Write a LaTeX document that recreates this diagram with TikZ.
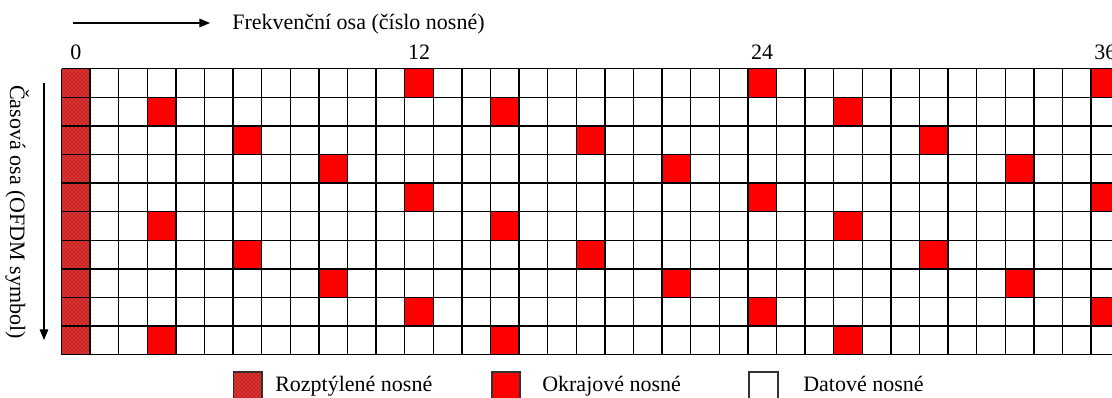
\documentclass[tikz,border=0pt]{standalone}
\usepackage{fontspec}
\setmainfont{Liberation Serif}
\usetikzlibrary{arrows.meta,patterns}
\definecolor{hatchbase}{RGB}{225,50,50}
\definecolor{hatchdot}{RGB}{80,0,0}
\begin{document}
\begin{tikzpicture}[x=0.75pt,y=-0.75pt,
  lbl/.style={inner sep=0pt, font=\fontsize{16.5pt}{18pt}\selectfont},
  gridline/.style={line width=1pt, black},
  axisarrow/.style={line width=0.8pt, -{Triangle[length=8pt,width=6.5pt]}},
  hatched/.style={fill=hatchbase, postaction={pattern=crosshatch dots, pattern color=hatchdot}},
  pilot/.style={fill=red}]
\useasboundingbox (0,0) rectangle (1112,398);
\clip (0,0) rectangle (1112,398);
\def\cw{28.6}
\def\xo{61.5}
\def\yo{68.7}
% red edge carriers
\foreach \r in {0,...,9}{
  \pgfmathtruncatemacro{\m}{3*mod(\r,4)}
  \foreach \k in {0,1,2,3}{
    \pgfmathsetmacro{\xa}{\xo+\cw*(\m+12*\k)}
    \pgfmathsetmacro{\ya}{\yo+\cw*\r}
    \fill[pilot] (\xa,\ya) rectangle ++(\cw,\cw);
  }
}
% scattered column
\path[hatched] (\xo,\yo) rectangle ({\xo+\cw},{\yo+10*\cw});
% grid lines
\foreach \c in {0,...,37}{
  \draw[gridline] ({\xo+\cw*\c},\yo) -- ({\xo+\cw*\c},{\yo+10*\cw});
}
\foreach \r in {0,...,10}{
  \draw[gridline] (\xo,{\yo+\cw*\r}) -- (1120,{\yo+\cw*\r});
}
% column labels
\foreach \c/\t in {0/0,12/12,24/24,36/36}{
  \node[lbl, anchor=base] (col\c) at ({\xo+\cw*(\c+0.5)},59.5) {\t};
}
% frequency axis
\coordinate (fa) at (73,23);
\coordinate (fb) at (210,23);
\draw[axisarrow] (fa) -- (fb);
\node[lbl, anchor=base west] (ftitle) at (232,30) {Frekvenční osa (číslo nosné)};
% time axis
\coordinate (ta) at (44,83);
\coordinate (tb) at (44,340);
\draw[axisarrow] (ta) -- (tb);
\node[lbl, anchor=base west, rotate=-90] (ttitle) at (10,85) {Časová osa (OFDM symbol)};
% legend
\path[hatched, draw=black!80, line width=0.8pt] (233.5,372) rectangle (262,401) coordinate (l1);
\node[lbl, anchor=base west] (lt1) at (275,392) {Rozptýlené nosné};
\path[pilot, draw=black!80, line width=0.8pt] (492,372) rectangle (520,401) coordinate (l2);
\node[lbl, anchor=base west] (lt2) at (542,392) {Okrajové nosné};
\path[fill=white, draw=black!80, line width=0.8pt] (749,372) rectangle (778,401) coordinate (l3);
\node[lbl, anchor=base west] (lt3) at (803,392) {Datové nosné};
\end{tikzpicture}
\end{document}
